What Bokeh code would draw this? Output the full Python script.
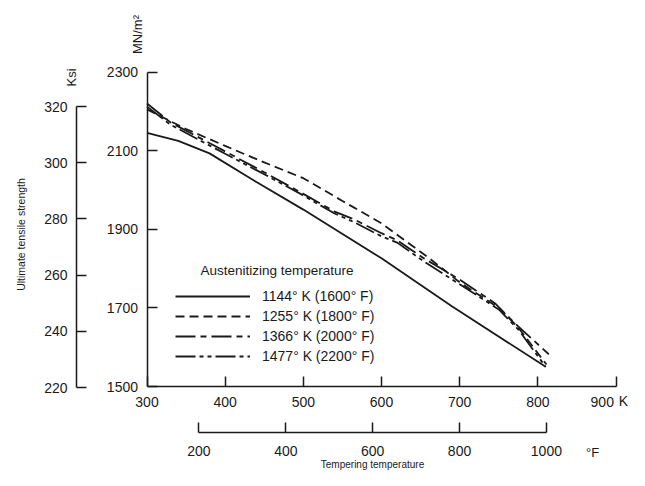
from math import pi
from bokeh.plotting import figure
from bokeh.models import (Range1d, LinearAxis, FixedTicker, Label, Legend,
                          LegendItem)
from bokeh.embed import file_html
from bokeh.resources import INLINE

# ---- data (tempering temperature K, ultimate tensile strength MN/m^2) ----
k_1144 = [300, 340, 380, 440, 500, 600, 690, 810]
uts_1144 = [2145, 2125, 2093, 2020, 1950, 1826, 1704, 1550]

k_1255 = [300, 350, 400, 450, 500, 550, 600, 660, 700, 750, 775, 811]
uts_1255 = [2205, 2155, 2112, 2070, 2030, 1972, 1915, 1828, 1765, 1700, 1650, 1556]

k_1366 = [300, 330, 400, 450, 500, 540, 565, 600, 620, 655, 700, 745, 770, 814]
uts_1366 = [2220, 2172, 2098, 2045, 1990, 1945, 1925, 1890, 1872, 1825, 1772, 1712, 1662, 1582]

k_1477 = [300, 330, 400, 450, 500, 540, 565, 600, 620, 655, 700, 750, 775, 810]
uts_1477 = [2212, 2166, 2092, 2040, 1986, 1940, 1918, 1882, 1866, 1817, 1760, 1696, 1645, 1550]

series_labels = ["1144\u00b0 K (1600\u00b0 F)", "1255\u00b0 K (1800\u00b0 F)",
                 "1366\u00b0 K (2000\u00b0 F)", "1477\u00b0 K (2200\u00b0 F)"]

k_ticks = [300, 400, 500, 600, 700, 800, 900]
f_ticks = [200, 400, 600, 800, 1000]
mn_ticks = [1500, 1700, 1900, 2100, 2300]
ksi_ticks = [220, 240, 260, 280, 300, 320]


def k_to_f(k):
    return k * 1.8 - 459.67


# ---- layout (canvas pixels) ----
W, H = 629, 470
X300_PX, PX_PER_K = 146.5, 0.7817
Y1500_PX, PX_PER_MN = 386.0, 0.3931
KSI220_PX, PX_PER_KSI = 387.0, 2.81
KSI_AXIS_PX = 76.0
F_AXIS_PX = 432.0


def px_to_k(px):
    return 300 + (px - X300_PX) / PX_PER_K


def py_to_mn(py):
    return 1500 + (Y1500_PX - py) / PX_PER_MN


def py_to_ksi(py):
    return 220 + (KSI220_PX - py) / PX_PER_KSI


FONT = "Liberation Sans"
INK = "#1a1a1a"

p = figure(width=W, height=H, title=None,
           x_range=Range1d(px_to_k(0), px_to_k(W)),
           y_range=Range1d(py_to_mn(H), py_to_mn(0)),
           output_backend="svg", toolbar_location=None,
           x_axis_location=None, y_axis_location=None,
           min_border_left=0, min_border_right=0, min_border_top=0,
           min_border_bottom=0)
p.outline_line_color = None
p.background_fill_color = "white"
p.border_fill_color = "white"
p.xgrid.visible = False
p.ygrid.visible = False

p.extra_y_ranges = {"ksi": Range1d(py_to_ksi(H), py_to_ksi(0))}
p.extra_x_ranges = {"degF": Range1d(k_to_f(px_to_k(0)), k_to_f(px_to_k(W)))}


def style(ax, standoff=9, tick_in=10):
    ax.axis_line_color = INK
    ax.axis_line_width = 1.5
    ax.major_tick_line_color = INK
    ax.major_tick_line_width = 1.5
    ax.major_tick_in = tick_in
    ax.major_tick_out = 0
    ax.minor_tick_line_color = None
    ax.major_label_standoff = standoff
    ax.major_label_text_font = FONT
    ax.major_label_text_font_size = "14px"
    ax.major_label_text_color = INK


yax = LinearAxis(ticker=FixedTicker(ticks=mn_ticks),
                 bounds=(mn_ticks[0], mn_ticks[-1]), fixed_location=300)
style(yax, standoff=9)
p.add_layout(yax, "left")

kax = LinearAxis(y_range_name="ksi", ticker=FixedTicker(ticks=ksi_ticks),
                 bounds=(ksi_ticks[0], ksi_ticks[-1]),
                 fixed_location=px_to_k(KSI_AXIS_PX))
style(kax, standoff=9)
p.add_layout(kax, "left")

xax = LinearAxis(ticker=FixedTicker(ticks=k_ticks),
                 bounds=(k_ticks[0], k_ticks[-1]), fixed_location=1500)
style(xax, standoff=7)
xax.major_label_overrides = {900: "900" + "\u00a0" * 4}
p.add_layout(xax, "below")

fax = LinearAxis(x_range_name="degF", ticker=FixedTicker(ticks=f_ticks),
                 bounds=(f_ticks[0], f_ticks[-1]),
                 fixed_location=py_to_mn(F_AXIS_PX))
style(fax, standoff=13)
p.add_layout(fax, "below")

LW = 1.8
r1 = p.line(k_1144, uts_1144, line_color=INK, line_width=LW)
r2 = p.line(k_1255, uts_1255, line_color=INK, line_width=LW, line_dash="9 5")
r3 = p.line(k_1366, uts_1366, line_color=INK, line_width=LW, line_dash="20 5 6 5")
r4 = p.line(k_1477, uts_1477, line_color=INK, line_width=LW,
            line_dash="20 4 4 4 4 4")

legend = Legend(items=[LegendItem(label=series_labels[i], renderers=[r])
                       for i, r in enumerate([r1, r2, r3, r4])],
                location=(175, H - 365), glyph_width=75, glyph_height=18,
                label_height=18, spacing=2, padding=0, margin=0,
                label_standoff=12, border_line_color=None,
                background_fill_alpha=0, label_text_font=FONT,
                label_text_font_size="14px", label_text_color=INK)
p.add_layout(legend, "center")


def add_text(px, py, text, size, angle=0.0, align="center"):
    p.add_layout(Label(x=px_to_k(px), y=py_to_mn(py), text=text,
                       angle=angle, text_font=FONT, text_font_size=size,
                       text_color=INK, text_align=align,
                       text_baseline="middle"))


add_text(200, 270, "Austenitizing temperature", "13.5px", align="left")
add_text(137, 34, "MN/m\u00b2", "13px", angle=pi / 2)
add_text(71, 77, "Ksi", "13px", angle=pi / 2)
add_text(20, 234, "Ultimate tensile strength", "10.5px", angle=pi / 2)
add_text(623, 400, "K", "14px")
add_text(592, 452, "\u00b0F", "13px")
add_text(372, 464, "Tempering temperature", "10px")

open("out.html", "w").write(file_html(p, INLINE))
